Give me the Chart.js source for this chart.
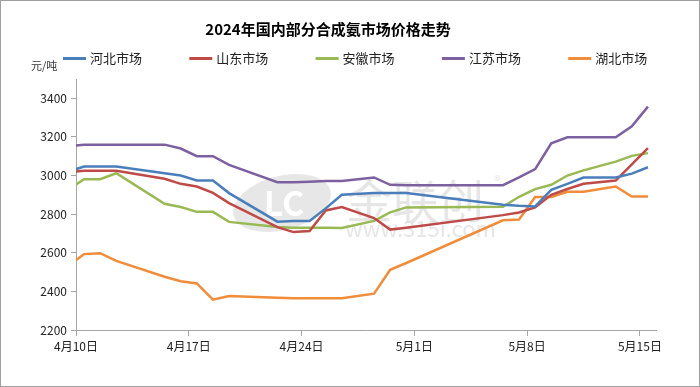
<!DOCTYPE html>
<html>
<head>
<meta charset="utf-8">
<script src="https://cdn.jsdelivr.net/npm/chart.js@4"></script>
<style>
  body { margin: 0; background: #fff; }
  canvas { display: block; }
</style>
</head>
<body>
<canvas id="chart" width="700" height="387"></canvas>
<script>
// working days in the data (4/9 is just left of the axis and gets clipped)
const dates = ['4/9', '4/10', '4/11', '4/12', '4/15', '4/16', '4/17', '4/18', '4/19', '4/22', '4/23', '4/24', '4/25',
  '4/26', '4/28', '4/29', '4/30', '5/6', '5/7', '5/8', '5/9', '5/10', '5/11', '5/13', '5/14', '5/15'];

const hebei    = [3020, 3047, 3047, 3047, 3012, 3000, 2974, 2974, 2909, 2761, 2764, 2764, 2830, 2900, 2909, 2909, 2909, 2849, 2843, 2840, 2926, 2957, 2990, 2990, 3010, 3043];
const shandong = [3018, 3025, 3025, 3025, 2983, 2957, 2943, 2910, 2857, 2733, 2707, 2713, 2819, 2837, 2780, 2720, 2730, 2795, 2809, 2835, 2900, 2930, 2957, 2974, 3058, 3142];
const anhui    = [2925, 2981, 2981, 3012, 2854, 2837, 2812, 2812, 2760, 2733, 2730, 2730, 2730, 2728, 2765, 2809, 2835, 2838, 2890, 2930, 2952, 3000, 3027, 3072, 3102, 3116];
const jiangsu  = [3150, 3160, 3160, 3160, 3160, 3140, 3100, 3100, 3055, 2965, 2965, 2968, 2972, 2972, 2990, 2952, 2950, 2950, 2990, 3033, 3167, 3198, 3198, 3198, 3255, 3357];
const hubei    = [2531, 2593, 2598, 2558, 2476, 2453, 2441, 2357, 2376, 2367, 2364, 2364, 2364, 2364, 2388, 2512, 2547, 2768, 2772, 2889, 2889, 2916, 2916, 2943, 2891, 2891];

const seriesNames = ['河北市场', '山东市场', '安徽市场', '江苏市场', '湖北市场'];
const seriesColors = ['#4a7ebb', '#be4b48', '#98b954', '#7d60a0', '#f08c3a'];

const xTickLabels = ['4月10日', '4月17日', '4月24日', '5月1日', '5月8日', '5月15日'];
const xTickValues = [0, 7, 14, 21, 28, 35];
const yTickValues = [2200, 2400, 2600, 2800, 3000, 3200, 3400];

const FONT = "'Noto Sans CJK SC', 'Noto Sans', sans-serif";

// days from 4/10, points sit in the middle of their day
function dayPos(d) {
  const [m, day] = d.split('/').map(Number);
  const off = m === 4 ? day - 10 : 20 + day;
  return off + 0.5;
}

function makeSet(name, values, color) {
  return {
    label: name,
    data: dates.map((d, i) => ({ x: dayPos(d), y: values[i] })),
    borderColor: color,
    backgroundColor: color,
    borderWidth: 2.5,
    pointRadius: 0,
    tension: 0,
    clip: 0
  };
}

const allSeries = [hebei, shandong, anhui, jiangsu, hubei];

const extras = {
  id: 'extras',
  beforeDatasetsDraw(chart) {
    const ctx = chart.ctx;
    ctx.save();
    // watermark
    ctx.fillStyle = 'rgba(215,215,215,0.6)';
    ctx.beginPath();
    ctx.ellipse(282, 203, 50, 27, -0.25, 0, Math.PI * 2);
    ctx.fill();
    ctx.fillStyle = '#fff';
    ctx.font = "bold 34px " + FONT;
    ctx.textAlign = 'center';
    ctx.textBaseline = 'middle';
    ctx.fillText('LC', 284, 203);
    ctx.fillStyle = 'rgba(210,210,210,0.55)';
    ctx.font = "46px " + FONT;
    ctx.textAlign = 'left';
    ctx.fillText('金联创', 346, 201);
    ctx.font = "14px " + FONT;
    ctx.fillText('®', 494, 181);
    ctx.font = "22px " + FONT;
    ctx.fillText('www.315i.com', 345, 229);
    ctx.restore();
  },
  afterDraw(chart) {
    const ctx = chart.ctx;
    ctx.save();
    // legend
    ctx.font = "13px " + FONT;
    ctx.textBaseline = 'middle';
    ctx.textAlign = 'left';
    seriesNames.forEach((name, i) => {
      const x = 63 + i * 126.3;
      ctx.fillStyle = seriesColors[i];
      ctx.fillRect(x, 57, 23, 3);
      ctx.fillStyle = '#222';
      ctx.fillText(name, x + 27, 58);
    });
    // unit
    ctx.font = "11px " + FONT;
    ctx.fillStyle = '#333';
    ctx.fillText('元/吨', 31, 66);
    // frame
    ctx.strokeStyle = '#a0a0a0';
    ctx.lineWidth = 1;
    ctx.strokeRect(0.5, 0.5, 699, 386);
    ctx.restore();
  }
};

new Chart(document.getElementById('chart'), {
  type: 'line',
  data: {
    datasets: allSeries.map((s, i) => makeSet(seriesNames[i], s, seriesColors[i]))
  },
  options: {
    responsive: false,
    animation: false,
    events: [],
    layout: { padding: { top: 0, left: 0, right: 44, bottom: 0 } },
    plugins: {
      legend: { display: false },
      tooltip: { enabled: false },
      title: {
        display: true,
        text: '2024年国内部分合成氨市场价格走势',
        color: '#000',
        font: { family: FONT, size: 15, weight: 'bold' },
        padding: { top: 20, bottom: 41 }
      }
    },
    scales: {
      x: {
        type: 'linear',
        min: 0,
        max: 36,
        afterBuildTicks(scale) {
          scale.ticks = xTickValues.map(v => ({ value: v }));
        },
        afterFit(scale) { scale.height = 57; },
        border: { color: '#a6a6a6', width: 1 },
        grid: { drawOnChartArea: false, tickLength: 6, color: '#a6a6a6' },
        ticks: {
          autoSkip: false,
          maxRotation: 0,
          padding: 3,
          color: '#222',
          font: { family: FONT, size: 12 },
          callback: (v, i) => xTickLabels[i]
        }
      },
      y: {
        min: 2200,
        max: 3500,
        afterBuildTicks(scale) {
          scale.ticks = yTickValues.map(v => ({ value: v }));
        },
        afterFit(scale) { scale.width = 76; },
        border: { color: '#a6a6a6', width: 1 },
        grid: { drawOnChartArea: false, tickLength: 5, color: '#a6a6a6' },
        ticks: {
          padding: 4,
          color: '#222',
          font: { family: FONT, size: 12 },
          callback: v => String(v)
        }
      }
    }
  },
  plugins: [extras]
});
</script>
</body>
</html>
